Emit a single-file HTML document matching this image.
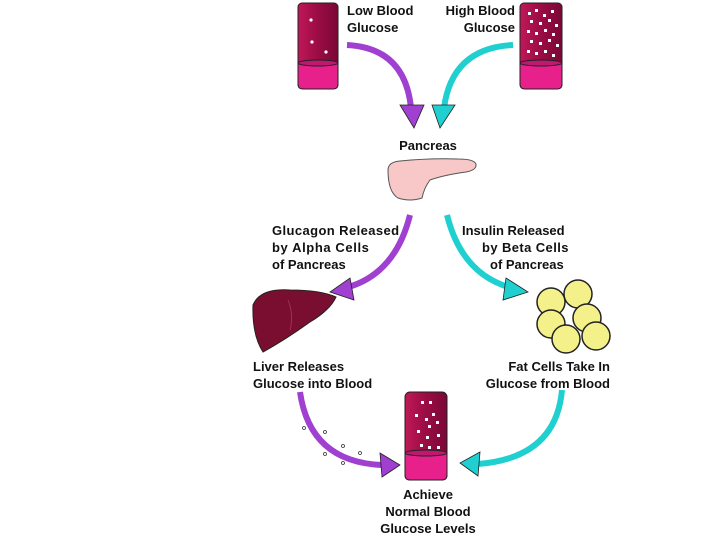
<!DOCTYPE html>
<html><head><style>
body{margin:0;background:#fff;width:720px;height:540px;overflow:hidden}
text{font-family:"Liberation Sans",Arial,sans-serif;font-size:13px;font-weight:bold;fill:#111}
</style></head><body>
<svg width="720" height="540" viewBox="0 0 720 540" xmlns="http://www.w3.org/2000/svg">
<defs>
<linearGradient id="tg" x1="0" x2="1"><stop offset="0" stop-color="#c01858"/><stop offset="0.5" stop-color="#9a0c44"/><stop offset="1" stop-color="#7a0836"/></linearGradient>
</defs>
<!-- left tube -->
<g stroke="#222" stroke-width="1">
<rect x="298" y="3" width="40" height="85" rx="4" fill="url(#tg)"/>
<path d="M298 62 h40 v22 q0 5 -5 5 h-30 q-5 0 -5 -5z" fill="#e8208c"/>
<ellipse cx="318" cy="63" rx="20" ry="3" fill="#c01870"/>
</g>
<g fill="#fff"><circle cx="311" cy="20" r="1.6"/><circle cx="312" cy="42" r="1.6"/><circle cx="326" cy="52" r="1.6"/></g>
<!-- right tube -->
<g stroke="#222" stroke-width="1">
<rect x="520" y="3" width="42" height="85" rx="4" fill="url(#tg)"/>
<path d="M520 62 h42 v22 q0 5 -5 5 h-32 q-5 0 -5 -5z" fill="#e8208c"/>
<ellipse cx="541" cy="63" rx="21" ry="3" fill="#c01870"/>
</g>
<g fill="#fff">
<rect x="528" y="12" width="3" height="3"/><rect x="535" y="9" width="3" height="3"/><rect x="543" y="14" width="3" height="3"/><rect x="551" y="10" width="3" height="3"/>
<rect x="530" y="20" width="3" height="3"/><rect x="539" y="22" width="3" height="3"/><rect x="548" y="19" width="3" height="3"/><rect x="555" y="24" width="3" height="3"/>
<rect x="527" y="30" width="3" height="3"/><rect x="535" y="32" width="3" height="3"/><rect x="544" y="29" width="3" height="3"/><rect x="552" y="33" width="3" height="3"/>
<rect x="530" y="40" width="3" height="3"/><rect x="539" y="42" width="3" height="3"/><rect x="548" y="39" width="3" height="3"/><rect x="556" y="44" width="3" height="3"/>
<rect x="527" y="50" width="3" height="3"/><rect x="535" y="52" width="3" height="3"/><rect x="544" y="50" width="3" height="3"/><rect x="552" y="54" width="3" height="3"/>
</g>
<!-- bottom tube -->
<g stroke="#222" stroke-width="1">
<rect x="405" y="392" width="42" height="88" rx="5" fill="url(#tg)"/>
<path d="M405 452 h42 v23 q0 5 -5 5 h-32 q-5 0 -5 -5z" fill="#e8208c"/>
<ellipse cx="426" cy="453" rx="21" ry="3" fill="#c01870"/>
</g>
<g fill="#fff">
<rect x="421" y="401" width="3" height="3"/><rect x="429" y="401" width="3" height="3"/><rect x="415" y="414" width="3" height="3"/><rect x="432" y="413" width="3" height="3"/>
<rect x="425" y="418" width="3" height="3"/><rect x="436" y="421" width="3" height="3"/><rect x="417" y="430" width="3" height="3"/><rect x="428" y="425" width="3" height="3"/>
<rect x="437" y="434" width="3" height="3"/><rect x="420" y="444" width="3" height="3"/><rect x="428" y="446" width="3" height="3"/><rect x="437" y="446" width="3" height="3"/>
<rect x="426" y="436" width="3" height="3"/>
</g>
<!-- pancreas -->
<path d="M388 170 q0 -8 12 -9 q30 -3 58 -2 q16 0 18 5 q1 6 -10 8 q-22 3 -36 8 q-6 8 -8 18 q-12 4 -24 0 q-10 -6 -10 -28z" fill="#f8c8c8" stroke="#555" stroke-width="1"/>
<!-- liver -->
<path d="M253 305 Q260 288 290 290 Q320 290 336 297 Q330 310 310 322 Q285 340 263 352 Q252 335 253 305z" fill="#7a0e30" stroke="#222" stroke-width="1"/>
<path d="M288 300 q6 15 2 30" stroke="#a03050" fill="none"/>
<!-- fat cells -->
<g fill="#f4f08a" stroke="#222" stroke-width="1.5">
<circle cx="551" cy="302" r="14"/><circle cx="578" cy="294" r="14"/>
<circle cx="551" cy="324" r="14"/><circle cx="587" cy="318" r="14"/>
<circle cx="596" cy="336" r="14"/><circle cx="566" cy="339" r="14"/>
</g>
<!-- arrows -->
<g fill="none" stroke-width="6">
<path d="M347 45 Q405 48 411 108" stroke="#a040d0"/>
<path d="M513 45 Q452 48 444 108" stroke="#20d0d0"/>
<path d="M410 215 Q395 275 345 288" stroke="#a040d0"/>
<path d="M447 215 Q462 275 512 288" stroke="#20d0d0"/>
<path d="M300 392 Q310 462 382 465" stroke="#a040d0"/>
<path d="M562 390 Q556 458 478 464" stroke="#20d0d0"/>
</g>
<g stroke="#222" stroke-width="0.8">
<polygon points="400,105 424,105 414,128" fill="#a040d0"/>
<polygon points="432,105 455,105 440,128" fill="#20d0d0"/>
<polygon points="350,278 354,300 330,292" fill="#a040d0"/>
<polygon points="506,278 503,300 528,292" fill="#20d0d0"/>
<polygon points="380,453 382,477 400,465" fill="#a040d0"/>
<polygon points="480,452 478,476 460,463" fill="#20d0d0"/>
</g>
<g fill="none" stroke="#333" stroke-width="0.8">
<circle cx="304" cy="428" r="1.5"/><circle cx="325" cy="432" r="1.5"/><circle cx="343" cy="446" r="1.5"/><circle cx="325" cy="454" r="1.5"/><circle cx="360" cy="453" r="1.5"/><circle cx="343" cy="463" r="1.5"/>
</g>
<!-- labels -->
<text x="347" y="15">Low Blood</text>
<text x="347" y="32">Glucose</text>
<text x="515" y="15" text-anchor="end">High Blood</text>
<text x="515" y="32" text-anchor="end">Glucose</text>
<text x="428" y="150" text-anchor="middle">Pancreas</text>
<text x="272" y="235" letter-spacing="0.4">Glucagon Released</text>
<text x="272" y="252" letter-spacing="0.6">by Alpha Cells</text>
<text x="272" y="269">of Pancreas</text>
<text x="462" y="235">Insulin Released</text>
<text x="482" y="252" letter-spacing="0.4">by Beta Cells</text>
<text x="490" y="269">of Pancreas</text>
<text x="253" y="371">Liver Releases</text>
<text x="253" y="388">Glucose into Blood</text>
<text x="610" y="371" text-anchor="end">Fat Cells Take In</text>
<text x="610" y="388" text-anchor="end">Glucose from Blood</text>
<text x="428" y="499" text-anchor="middle">Achieve</text>
<text x="428" y="516" text-anchor="middle">Normal Blood</text>
<text x="428" y="533" text-anchor="middle">Glucose Levels</text>
</svg>
</body></html>
